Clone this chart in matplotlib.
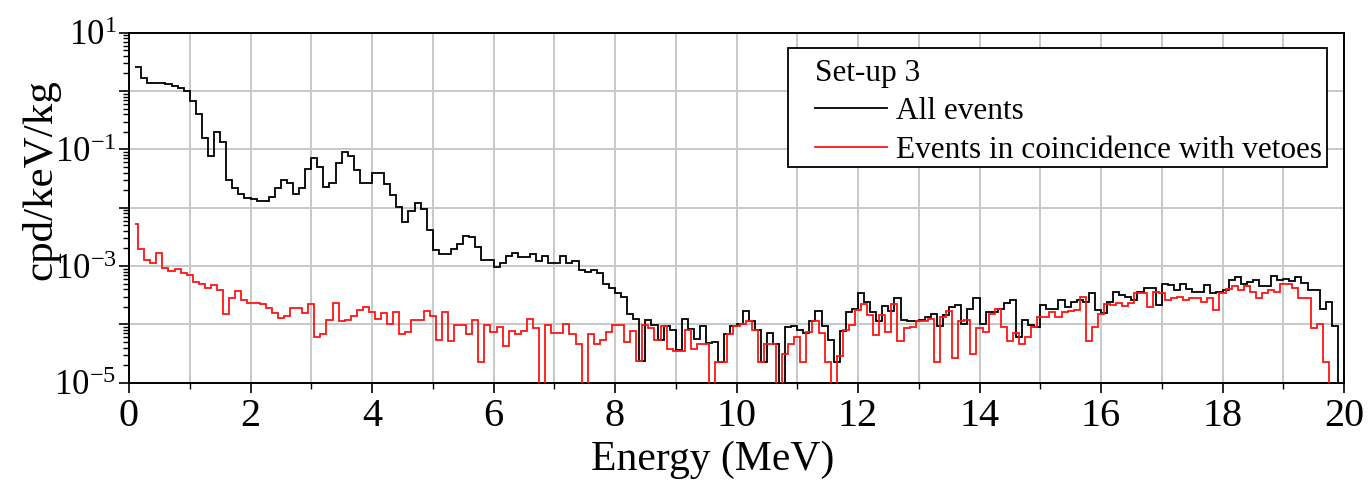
import numpy as np
import matplotlib
matplotlib.use("Agg")
import matplotlib.pyplot as plt
from matplotlib.lines import Line2D
from matplotlib.patches import Rectangle
from matplotlib.ticker import LogLocator, MultipleLocator, FuncFormatter, NullFormatter

# ---------------- data ----------------
# log10 of the rate (cpd/keV/kg); None = empty bin
bin_width = 0.1
all_first_edge = 0.1
all_events_log10 = [
    0.42, 0.22, 0.14, 0.14, 0.14, 0.125, 0.085, 0.057, 0.0, -0.17,
    -0.40, -0.80, -1.12, -0.70, -0.88, -1.52, -1.66, -1.77, -1.84, -1.85,
    -1.88, -1.89, -1.82, -1.67, -1.52, -1.58, -1.77, -1.67, -1.34, -1.15,
    -1.31, -1.64, -1.57, -1.23, -1.05, -1.12, -1.35, -1.57, -1.57, -1.40,
    -1.40, -1.60, -1.78, -1.99, -2.24, -2.06, -1.92, -2.02, -2.38, -2.73,
    -2.80, -2.80, -2.70, -2.62, -2.48, -2.50, -2.67, -2.90, -2.90, -3.02,
    -2.94, -2.82, -2.78, -2.84, -2.84, -2.79, -2.91, -2.82, -2.94, -2.94,
    -2.82, -2.95, -2.91, -3.07, -3.11, -3.07, -3.12, -3.31, -3.38, -3.46,
    -3.53, -3.83, -3.90, -4.62, -3.93, -4.01, -4.27, -4.03, -4.10, -4.44,
    -3.90, -4.08, -4.25, -4.02, -4.32, -4.31, -4.64, -4.17, -4.03, -3.99,
    -3.77, -3.95, -4.10, -4.64, -4.14, -4.33, None, -4.04, -4.02, -4.09,
    -4.14, -3.94, -3.77, -4.03, -4.27, -4.64, -4.11, -3.78, -3.73, -3.47,
    -3.62, -3.78, -3.95, -3.69, -3.77, -3.55, -3.93, -3.94, -3.94, -3.93,
    -3.88, -3.82, -4.03, -3.84, -3.70, -3.66, -3.99, -3.73, -3.55, -3.99,
    -3.79, -3.79, -3.74, -3.63, -3.59, -4.22, -3.93, -4.01, -4.04, -3.67,
    -3.74, -3.74, -3.58, -3.70, -3.61, -3.58, -3.61, -3.47, -3.75, -3.80,
    -3.61, -3.44, -3.50, -3.53, -3.58, -3.44, -3.37, -3.37, -3.67, -3.30,
    -3.33, -3.41, -3.31, -3.40, -3.44, -3.44, -3.33, -3.47, -3.44, -3.41,
    -3.24, -3.18, -3.30, -3.27, -3.24, -3.34, -3.34, -3.17, -3.24, -3.23,
    -3.25, -3.18, -3.29, -3.41, -3.41, -3.74, -3.61, -4.03, None, -4.64,
]

veto_first_edge = 0.1
veto_second_edge = 0.15
veto_events_log10 = [
    -2.28, -2.71, -2.89, -2.95, -2.78, -3.03, -3.08, -3.05, -3.12, -3.15,
    -3.28, -3.30, -3.37, -3.33, -3.41, -3.82, -3.54, -3.43, -3.58, -3.63,
    -3.63, -3.65, -3.72, -3.81, -3.89, -3.86, -3.72, -3.72, -3.81, -3.65,
    -4.21, -4.16, -3.92, -3.64, -3.95, -3.92, -3.86, -3.75, -3.70, -3.79,
    -3.91, -3.81, -4.00, -3.79, -4.16, -4.13, -3.92, -3.92, -3.77, -3.85,
    -4.27, -3.79, -4.28, -4.01, -4.01, -4.17, -3.93, -4.64, -4.01, -4.13,
    -4.04, -4.37, -4.11, -4.17, -4.11, -3.91, -4.06, None, -4.01, -4.14,
    -4.14, -3.99, -4.17, -4.34, None, -4.16, -4.34, -4.26, -4.13, -4.01,
    -4.01, -4.31, -4.11, -4.62, -4.01, -4.07, -4.27, -4.03, -4.43, -4.46,
    -4.46, -4.10, -4.43, -4.34, -4.34, None, -4.64, -4.64, -4.17, -4.03,
    -3.99, -3.95, -4.10, -4.64, -4.34, -4.34, None, -4.51, -4.33, -4.22,
    -4.64, -4.13, -3.94, -4.15, -4.64, None, -4.55, -4.10, -4.01, -3.75,
    -3.65, -3.84, -4.18, -3.84, -4.13, -3.65, -4.28, -4.07, -4.05, -3.94,
    -3.94, -3.90, -4.64, -3.87, -3.77, -4.58, -3.95, -3.92, -4.51, -4.07,
    -4.13, -3.83, -3.73, -4.05, -4.28, -4.15, -4.34, -4.22, -4.04, -3.87,
    -3.87, -3.78, -3.87, -3.78, -3.77, -3.75, -3.53, -4.29, -4.04, -3.82,
    -3.65, -3.66, -3.64, -3.69, -3.64, -3.47, -3.46, -3.71, -3.44, -3.47,
    -3.59, -3.55, -3.53, -3.59, -3.54, -3.54, -3.61, -3.55, -3.75, -3.46,
    -3.40, -3.35, -3.41, -3.35, -3.44, -3.54, -3.47, -3.41, -3.44, -3.31,
    -3.30, -3.38, -3.54, -3.54, -4.07, -3.99, -4.64, None,
]

legend_title = "Set-up 3"
label_all = "All events"
label_veto = "Events in coincidence with vetoes"
x_label = "Energy (MeV)"
y_label = "cpd/keV/kg"


def to_rate(logs):
    return np.array([0.0 if v is None else 10.0 ** v for v in logs])


all_vals = to_rate(all_events_log10)
veto_vals = to_rate(veto_events_log10)
all_edges = all_first_edge + bin_width * np.arange(len(all_vals) + 1)
veto_edges = np.concatenate([[veto_first_edge],
                             veto_second_edge + bin_width * np.arange(len(veto_vals))])

# ---------------- style ----------------
plt.rcParams["font.family"] = ["Liberation Serif", "DejaVu Serif"]
plt.rcParams["mathtext.fontset"] = "custom"
plt.rcParams["mathtext.rm"] = "Liberation Serif"
plt.rcParams["mathtext.it"] = "Liberation Serif:italic"

W, H = 1369, 483
AX_L, AX_R, AX_T, AX_B = 129, 1344, 32.7, 382.7
fig = plt.figure(figsize=(W / 100, H / 100), dpi=100)
ax = fig.add_axes([AX_L / W, 1 - AX_B / H, (AX_R - AX_L) / W, (AX_B - AX_T) / H])

ax.set_yscale("log")
ax.set_xlim(0, 20)
ax.set_ylim(1e-5, 1e1)

RED = "#ff1414"
ax.stairs(all_vals, all_edges, baseline=None, color="black", lw=1.3, zorder=3)
ax.stairs(veto_vals, veto_edges, baseline=None, color=RED, lw=1.3, zorder=4)

# ticks / grid
ax.xaxis.set_major_locator(MultipleLocator(2))
ax.xaxis.set_minor_locator(MultipleLocator(1))
ax.yaxis.set_major_locator(LogLocator(base=10, numticks=20))
ax.yaxis.set_minor_locator(LogLocator(base=10, subs=np.arange(2, 10), numticks=20))
ax.yaxis.set_minor_formatter(NullFormatter())


def yfmt(v, pos):
    e = int(round(np.log10(v)))
    if e % 2 != 0:
        return r"$\mathregular{10^{%d}}$" % e
    return ""


ax.yaxis.set_major_formatter(FuncFormatter(yfmt))
ax.grid(True, which="major", axis="both", color="#c8c8c8", lw=1.4, zorder=0)
ax.grid(True, which="minor", axis="x", color="#c8c8c8", lw=1.4, zorder=0)
ax.set_axisbelow(True)

ax.tick_params(axis="both", which="major", direction="out", length=7, width=1.2,
               labelsize=29, pad=4)
ax.tick_params(axis="y", which="major", pad=2, labelsize=25)
ax.tick_params(axis="both", which="minor", direction="out", length=4, width=1.0)
for s in ax.spines.values():
    s.set_linewidth(1.4)

ax.set_xlabel(x_label, fontsize=30)
ax.xaxis.set_label_coords(0.48, -0.165)
ax.set_ylabel(y_label, fontsize=31)
ax.yaxis.set_label_coords((60 - AX_L) / (AX_R - AX_L), (AX_B - 180) / (AX_B - AX_T))

# legend: frame drawn as a separate rectangle (reference has wide left margin)
box_l, box_r, box_t, box_b = 788, 1327, 48, 167
ax.add_patch(Rectangle(((box_l - AX_L) / (AX_R - AX_L), (AX_B - box_b) / (AX_B - AX_T)),
                       (box_r - box_l) / (AX_R - AX_L), (box_b - box_t) / (AX_B - AX_T),
                       transform=ax.transAxes, facecolor="white", edgecolor="black",
                       lw=1.3, zorder=5))
handles = [Line2D([], [], color="black", lw=1.3),
           Line2D([], [], color=RED, lw=1.3)]
leg = ax.legend(handles, [label_all, label_veto], title=legend_title,
                loc="upper right",
                bbox_to_anchor=((1322 - AX_L) / (AX_R - AX_L), (AX_B - 59) / (AX_B - AX_T)),
                fontsize=22.5, title_fontsize=22.5,
                frameon=False, handlelength=2.3, handletextpad=0.3,
                labelspacing=0.3, borderpad=0.0, borderaxespad=0.0,
                alignment="left")
leg.set_zorder(6)

fig.savefig("out.png", dpi=100)
